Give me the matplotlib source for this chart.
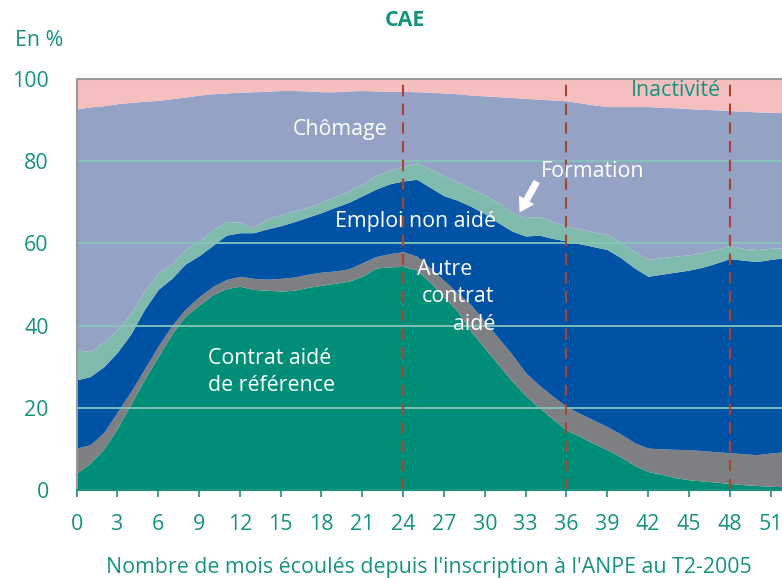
import numpy as np
import matplotlib
matplotlib.use('Agg')
import matplotlib.pyplot as plt

"""
CAE : situation des entrants en contrat aide au T2-2005, mois par mois.
Courbes lues sur le graphique : niveaux cumules (en %) de bas en haut.
"""

months = list(range(0, 53))

# haut de chaque couche (cumule, en %)
cumContratRef = [4.1, 6.5, 10.0, 15.0, 21.0, 27.0, 32.5, 38.0, 42.3, 45.0,
                 47.5, 49.0, 49.6, 48.8, 48.6, 48.4, 48.6, 49.3, 49.8, 50.3,
                 50.8, 52.0, 54.0, 54.3, 54.4, 53.5, 50.5, 47.0, 43.5, 38.5,
                 34.5, 30.5, 26.5, 23.0, 20.0, 17.3, 14.6, 13.0, 11.3, 9.8,
                 8.0, 6.0, 4.5, 3.8, 3.0, 2.5, 2.2, 1.9, 1.6, 1.3,
                 1.1, 0.9, 0.8]
cumAutreContrat = [10.2, 11.0, 14.0, 19.0, 24.0, 29.5, 35.0, 40.0, 44.0, 47.0,
                   49.5, 51.2, 52.0, 51.5, 51.3, 51.5, 51.8, 52.5, 53.0, 53.3,
                   53.8, 55.3, 56.8, 57.5, 58.0, 56.9, 54.0, 51.0, 48.0, 45.0,
                   41.0, 37.0, 33.0, 28.5, 25.5, 22.8, 20.3, 18.6, 17.0, 15.4,
                   13.6, 11.5, 10.2, 10.0, 9.9, 9.8, 9.6, 9.3, 9.1, 8.8,
                   8.6, 9.0, 9.3]
cumEmploi = [26.8, 27.6, 30.0, 33.5, 38.0, 44.0, 48.8, 51.5, 55.0, 57.0,
             59.5, 62.0, 62.6, 62.6, 63.5, 64.3, 65.3, 66.4, 67.5, 68.8,
             70.0, 71.6, 73.2, 74.5, 75.2, 75.6, 73.6, 71.6, 70.5, 69.0,
             67.2, 65.0, 63.0, 61.8, 62.0, 61.2, 60.6, 59.9, 59.2, 58.5,
             56.5, 54.0, 52.0, 52.5, 53.0, 53.5, 54.2, 55.2, 56.3, 55.9,
             55.6, 56.1, 56.5]
cumFormation = [34.1, 33.7, 36.0, 39.0, 43.0, 48.5, 52.8, 55.0, 58.5, 60.5,
                63.3, 65.3, 65.2, 63.8, 66.0, 67.0, 67.9, 68.8, 70.0, 71.4,
                72.8, 74.5, 76.5, 77.8, 78.8, 79.6, 78.0, 76.4, 75.0, 73.3,
                71.8, 69.8, 67.5, 66.3, 66.5, 65.3, 64.2, 63.5, 62.8, 62.2,
                60.3, 58.0, 56.1, 56.5, 56.9, 57.2, 57.8, 58.6, 59.5, 58.8,
                58.5, 58.8, 58.9]
cumChomage = [92.7, 93.2, 93.5, 94.0, 94.3, 94.6, 94.8, 95.2, 95.6, 96.1,
              96.4, 96.6, 96.8, 96.9, 97.0, 97.2, 97.2, 97.1, 96.9, 96.9,
              97.1, 97.2, 97.1, 97.0, 97.0, 96.9, 96.8, 96.6, 96.4, 96.1,
              95.9, 95.7, 95.5, 95.3, 95.1, 94.9, 94.7, 94.2, 93.7, 93.3,
              93.3, 93.3, 93.3, 93.1, 93.0, 92.8, 92.6, 92.5, 92.3, 92.2,
              92.0, 91.9, 91.8]
cumInactivite = [100.0] * 53

xTicks = list(range(0, 52, 3))
yTicks = [0, 20, 40, 60, 80, 100]
markMonths = [24, 36, 48]

teal = '#16937f'
layerColors = ['#008e78', '#7e7f83', '#0052a5', '#7fbaad', '#94a2c6', '#f5bfbf']
fs = 15.4
#############################################################################
def main():
  plt.rcParams['font.family'] = ['Open Sans', 'DejaVu Sans']
  fig = plt.figure(figsize=(7.82, 5.78), dpi=100)
  ax = fig.add_axes([76.5/782, 1-490/578, 1-76.5/782, (490-79)/578])

  x = np.array(months)
  levels = [np.zeros(len(x)), cumContratRef, cumAutreContrat, cumEmploi,
            cumFormation, cumChomage, cumInactivite]
  for i, col in enumerate(layerColors):
    ax.fill_between(x, levels[i], levels[i+1], color=col, lw=0, zorder=1)

  # grid + dashed markers on top of the areas
  for yv in yTicks[1:-1]:
    ax.axhline(yv, color='#86c6b9', lw=1.3, zorder=2)
  for m in markMonths:
    ax.axvline(m, color='#a9442e', lw=1.5, ls=(0, (5.5, 3.5)), zorder=3)

  ax.set_xlim(0, (782-76.5)/13.61)
  ax.set_ylim(0, 100)
  ax.set_xticks(xTicks)
  ax.set_yticks(yTicks)
  ax.tick_params(axis='x', colors=teal, labelsize=fs, length=5, width=1.2, pad=12)
  ax.tick_params(axis='y', colors=teal, labelsize=fs, length=0, pad=20)
  for s in ['left', 'top']:
    ax.spines[s].set_color('#9a9a9a')
    ax.spines[s].set_linewidth(1.5)
  ax.spines['right'].set_visible(False)
  ax.spines['bottom'].set_color(teal)
  ax.spines['bottom'].set_linewidth(1.5)
  ax.spines['bottom'].set_zorder(4)
  ax.set_xlabel("Nombre de mois écoulés depuis l'inscription à l'ANPE au T2-2005",
                color=teal, fontsize=fs, labelpad=16)

  # titles
  fig.text(405/782, 1-20/578, 'CAE', color=teal, fontsize=fs, fontweight='bold',
           ha='center', va='center')
  fig.text(15/782, 1-40/578, 'En %', color=teal, fontsize=fs, ha='left', va='center')

  # labels in the areas
  ax.text(44.05, 97.3, 'Inactivité', color=teal, fontsize=fs,
          ha='center', va='center', zorder=5)
  ax.text(19.4, 87.8, 'Chômage', color='white', fontsize=fs, ha='center', va='center', zorder=5)
  ax.text(37.9, 77.6, 'Formation', color='white', fontsize=fs, ha='center', va='center', zorder=5)
  ax.annotate('', xy=(32.6, 67.8), xytext=(33.8, 74.9),
              arrowprops=dict(facecolor='white', edgecolor='white', width=4,
                              headwidth=11, headlength=9), zorder=5)
  ax.text(24.9, 65.4, 'Emploi non aidé', color='white', fontsize=fs, ha='center',
          va='center', zorder=5)
  ax.text(25.0, 53.7, 'Autre', color='white', fontsize=fs, ha='left', va='center', zorder=5)
  ax.text(25.4, 47.1, 'contrat', color='white', fontsize=fs, ha='left', va='center', zorder=5)
  ax.text(27.7, 40.2, 'aidé', color='white', fontsize=fs, ha='left', va='center', zorder=5)
  ax.text(9.65, 28.6, 'Contrat aidé\nde référence', color='white', fontsize=fs,
          ha='left', va='center', linespacing=1.38, zorder=5)

  fig.savefig('out.png', dpi=100)
#############################################################################
if __name__ == '__main__':
  main()
